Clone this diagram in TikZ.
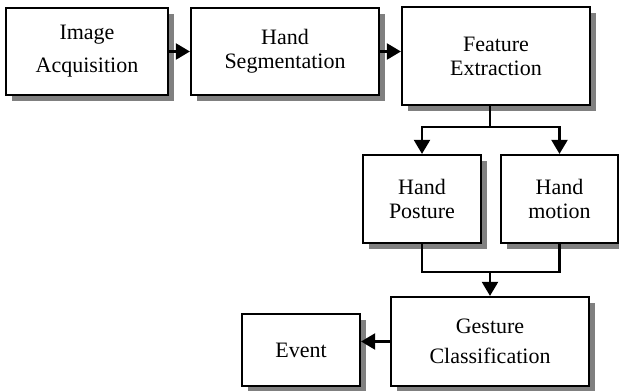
\documentclass[tikz,border=0pt]{standalone}
\usepackage{fontspec}
\setmainfont{Liberation Serif}
\usetikzlibrary{positioning,arrows.meta,shadows,calc}

\begin{document}
\begin{tikzpicture}[x=1pt, y=-1pt,
  every node/.style={font=\fontsize{22}{24}\selectfont},
  box/.style ={draw, line width=2.2pt, fill=white, align=center,
               minimum width=#1, inner sep=2pt,
               drop shadow={shadow xshift=6pt, shadow yshift=-6pt,
                            fill=black!50, opacity=1}},
  box/.default=118pt,
  arr/.style ={-{Triangle[length=14pt,width=16pt]}, line width=2.2pt},
  lin/.style ={line width=2.2pt}]
\useasboundingbox (0,0) rectangle (619,391);

%% Top row
\node[box=162pt, minimum height=87pt] (acq)  at ( 87, 51.5) {Image\\[9pt]Acquisition};
\node[box=188pt, minimum height=87pt] (seg)  at (285, 51.5) {Hand\\Segmentation};
\node[box=188pt, minimum height=98pt] (feat) at (496, 56)   {Feature\\Extraction};

%% Two feature branches
\node[box, minimum height=88pt] (post) at (422,   199) {Hand\\Posture};
\node[box=117pt, minimum height=88pt] (mot)  at (559.5, 199) {Hand\\motion};

%% Bottom row
\node[box=198pt, minimum height=89pt] (gest)  at (490, 341.5) {Gesture\\[6pt]Classification};
\node[box, minimum height=72pt]       (event) at (301, 350)   {Event};

%% Split and merge points
\coordinate (split) at (490, 127);
\coordinate (join)  at (490, 272);

%% Arrows along the top row
\draw[arr] (acq.east) -- (seg.west);
\draw[arr] (seg.east) -- (seg.east -| feat.west);

%% feat -> post / mot
\draw[lin] (split |- feat.south) -- (split);
\draw[arr] (split) -| (post.north);
\draw[arr] (split) -| (mot.north);

%% post / mot -> gest
\draw[lin] (post.south) |- (join) -| (mot.south);
\draw[arr] (join) -- (gest.north);

%% gest -> event
\draw[arr] (gest.west) -- (gest.west -| event.east);
\end{tikzpicture}
\end{document}
